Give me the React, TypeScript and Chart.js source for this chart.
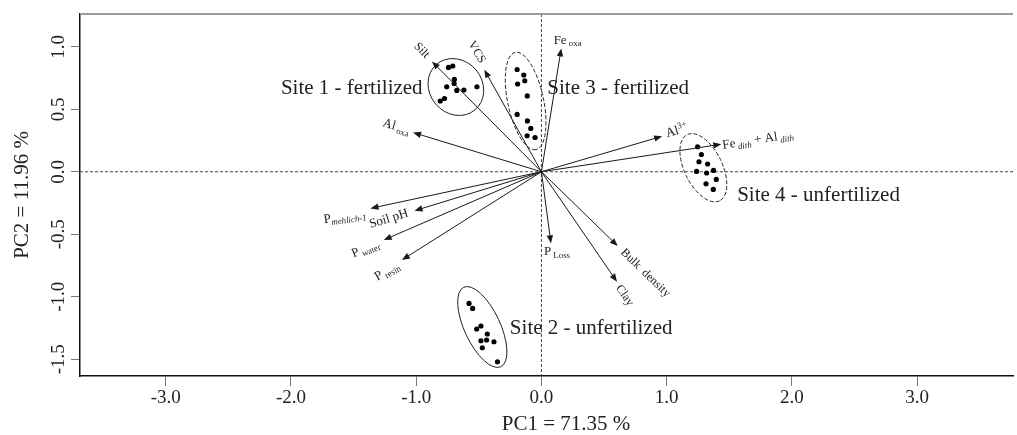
import React, { useEffect, useRef } from "react";
import { Chart, registerables } from "chart.js";
Chart.register(...registerables);

const FONT = "'Liberation Serif', 'Times New Roman', serif";

const xTickValues = [-3, -2, -1, 0, 1, 2, 3];
const yTickValues = [-1.5, -1, -0.5, 0, 0.5, 1];
const xLimits = [-3.684, 3.765];
const yLimits = [-1.634, 1.262];
const xTitle = "PC1 = 71.35 %";
const yTitle = "PC2 = 11.96 %";

const site1X = [-0.742, -0.708, -0.695, -0.697, -0.756, -0.676, -0.619, -0.515, -0.774, -0.808];
const site1Y = [0.835, 0.846, 0.739, 0.706, 0.68, 0.651, 0.654, 0.68, 0.586, 0.566];
const site2X = [-0.578, -0.549, -0.517, -0.483, -0.432, -0.483, -0.438, -0.379, -0.472, -0.351];
const site2Y = [-1.053, -1.093, -1.258, -1.234, -1.298, -1.352, -1.346, -1.36, -1.408, -1.52];
const site3X = [-0.194, -0.141, -0.133, -0.19, -0.113, -0.194, -0.112, -0.085, -0.114, -0.051];
const site3Y = [0.818, 0.774, 0.728, 0.702, 0.607, 0.459, 0.407, 0.347, 0.288, 0.274];
const site4X = [1.247, 1.277, 1.258, 1.327, 1.239, 1.319, 1.374, 1.396, 1.314, 1.372];
const site4Y = [0.2, 0.138, 0.08, 0.062, 0.003, -0.01, 0.011, -0.061, -0.096, -0.141];

const siteNames = ["Site 1 - fertilized", "Site 2 - unfertilized", "Site 3 - fertilized", "Site 4 - unfertilized"];
const siteLabelX = [-2.08, -0.252, 0.047, 1.563];
const siteLabelY = [0.622, -1.298, 0.622, -0.234];
const ellipseCX = [-0.683, -0.472, -0.126, 1.293];
const ellipseCY = [0.678, -1.242, 0.566, 0.032];
const ellipseA = [0.238, 0.35, 0.397, 0.294];
const ellipseB = [0.211, 0.143, 0.143, 0.151];
const ellipseRot = [50, 65, 78, 64];
const ellipseDashed = [false, false, true, true];

// loadings (arrow tips)
const loadingX = [-0.874, -0.456, 0.158, -1.025, 0.964, 1.436, -1.365, -1.013, -1.259, -1.114, 0.076, 0.609, 0.603];
const loadingY = [0.882, 0.816, 0.987, 0.314, 0.284, 0.22, -0.293, -0.312, -0.546, -0.706, -0.573, -0.594, -0.88];
type Seg = [string, "n" | "sub" | "sup" | "subi"];
const loadingLabels: Seg[][] = [
  [["Silt", "n"]],
  [["VCS", "n"]],
  [["Fe", "n"], [" oxa", "sub"]],
  [["Al", "n"], [" oxa", "sub"]],
  [["Al", "n"], ["3+", "sup"]],
  [["Fe", "n"], [" dith", "subi"], [" + Al", "n"], [" dith", "subi"]],
  [["P", "n"], ["mehlich-1", "subi"]],
  [["Soil pH", "n"]],
  [["P", "n"], [" water", "sub"]],
  [["P", "n"], [" resin", "sub"]],
  [["P", "n"], [" Loss", "sub"]],
  [["Bulk  density", "n"]],
  [["Clay", "n"]],
];
// label centre offset from arrow tip (px), rotation (deg), font size (px)
const labelDX = [-9.8, -7, 6.4, -16.5, 14.3, 36.5, -25.7, -26, -18.5, -15.3, 6, 28.3, 8.2];
const labelDY = [-11.5, -18, -9.1, -6.5, -6.2, -5.2, 7.7, 7.3, 8, 10.5, 7, 26.5, 13.3];
const labelRot = [45, 60, 0, 17, -16, -9, -8, -17, -22, -30, 0, 44, 55];
const labelSize = [12, 12, 13, 13, 13, 13, 13, 13, 13, 13, 13, 12, 12];

const toPts = (xs: number[], ys: number[]) => xs.map((x, i) => ({ x, y: ys[i] }));

const biplotPlugin = {
  id: "biplot",
  beforeDatasetsDraw(chart: any) {
    const { ctx, chartArea: a, scales } = chart;
    const xs = scales.x, ys = scales.y;
    const x0 = xs.getPixelForValue(0), y0 = ys.getPixelForValue(0);
    ctx.save();
    ctx.strokeStyle = "#444";
    ctx.lineWidth = 1;
    ctx.setLineDash([3, 2]);
    ctx.beginPath();
    ctx.moveTo(x0, a.top);
    ctx.lineTo(x0, a.bottom);
    ctx.moveTo(a.left, y0);
    ctx.lineTo(a.right, y0);
    ctx.stroke();
    ctx.restore();
  },
  afterDatasetsDraw(chart: any) {
    const { ctx, scales } = chart;
    const xs = scales.x, ys = scales.y;
    const ox = xs.getPixelForValue(0), oy = ys.getPixelForValue(0);
    ctx.save();
    // arrows
    ctx.strokeStyle = "#1a1a1a";
    ctx.fillStyle = "#1a1a1a";
    ctx.lineWidth = 1;
    loadingX.forEach((lx, i) => {
      const tx = xs.getPixelForValue(lx), ty = ys.getPixelForValue(loadingY[i]);
      const ang = Math.atan2(ty - oy, tx - ox);
      const c = Math.cos(ang), s = Math.sin(ang);
      const hl = 8, hw = 3.2;
      ctx.beginPath();
      ctx.moveTo(ox, oy);
      ctx.lineTo(tx - c * hl * 0.8, ty - s * hl * 0.8);
      ctx.stroke();
      ctx.beginPath();
      ctx.moveTo(tx, ty);
      ctx.lineTo(tx - c * hl - s * hw, ty - s * hl + c * hw);
      ctx.lineTo(tx - c * hl + s * hw, ty - s * hl - c * hw);
      ctx.closePath();
      ctx.fill();
      // label
      const size = labelSize[i];
      const segs = loadingLabels[i];
      const fontFor = (k: string) =>
        k === "n" ? `${size}px ${FONT}` : k === "subi" ? `italic ${size * 0.68}px ${FONT}` : `${size * 0.68}px ${FONT}`;
      let total = 0;
      const widths = segs.map(([t, k]) => {
        ctx.font = fontFor(k);
        const w = ctx.measureText(t).width;
        total += w;
        return w;
      });
      ctx.save();
      ctx.translate(tx + labelDX[i], ty + labelDY[i]);
      ctx.rotate((labelRot[i] * Math.PI) / 180);
      ctx.textAlign = "left";
      ctx.textBaseline = "alphabetic";
      ctx.fillStyle = "#222";
      let x = -total / 2;
      const base = size * 0.33;
      segs.forEach(([t, k], j) => {
        ctx.font = fontFor(k);
        const y = k === "n" ? base : k === "sup" ? base - size * 0.4 : base + size * 0.22;
        ctx.fillText(t, x, y);
        x += widths[j];
      });
      ctx.restore();
    });
    // ellipses
    ctx.strokeStyle = "#222";
    ctx.lineWidth = 1;
    ellipseCX.forEach((ecx, i) => {
      const cx = xs.getPixelForValue(ecx), cy = ys.getPixelForValue(ellipseCY[i]);
      const rx = Math.abs(xs.getPixelForValue(ecx + ellipseA[i]) - cx);
      const ry = Math.abs(xs.getPixelForValue(ecx + ellipseB[i]) - cx);
      ctx.setLineDash(ellipseDashed[i] ? [4, 2] : []);
      ctx.beginPath();
      ctx.ellipse(cx, cy, rx, ry, (ellipseRot[i] * Math.PI) / 180, 0, Math.PI * 2);
      ctx.stroke();
    });
    ctx.setLineDash([]);
    // site labels
    ctx.fillStyle = "#222";
    ctx.font = `21px ${FONT}`;
    ctx.textAlign = "left";
    ctx.textBaseline = "alphabetic";
    siteNames.forEach((n, i) => {
      ctx.fillText(n, xs.getPixelForValue(siteLabelX[i]), ys.getPixelForValue(siteLabelY[i]));
    });
    ctx.restore();
  },
  afterDraw(chart: any) {
    const { ctx, chartArea: a, scales } = chart;
    const ys = scales.y;
    ctx.save();
    ctx.strokeStyle = "#9a9a9a";
    ctx.lineWidth = 2;
    ctx.beginPath();
    ctx.moveTo(a.left, a.top);
    ctx.lineTo(a.right, a.top);
    ctx.stroke();
    ctx.fillStyle = "#222";
    ctx.font = `19px ${FONT}`;
    ctx.textAlign = "center";
    ctx.textBaseline = "middle";
    yTickValues.forEach((v) => {
      ctx.save();
      ctx.translate(59.4, ys.getPixelForValue(v));
      ctx.rotate(-Math.PI / 2);
      ctx.fillText(v.toFixed(1), 0, 0);
      ctx.restore();
    });
    // x-axis title (centred on the original, uncropped plot width)
    ctx.font = `21px ${FONT}`;
    ctx.fillText(xTitle, 566, 424);
    ctx.restore();
  },
};

export default function App() {
  const ref = useRef<HTMLCanvasElement>(null);
  useEffect(() => {
    const chart = new Chart(ref.current as HTMLCanvasElement, {
      type: "scatter",
      data: {
        datasets: [
          { data: toPts(site1X, site1Y) },
          { data: toPts(site2X, site2Y) },
          { data: toPts(site3X, site3Y) },
          { data: toPts(site4X, site4Y) },
        ].map((d) => ({ ...d, pointRadius: 2.6, backgroundColor: "#000", borderWidth: 0 })),
      },
      options: {
        animation: false,
        responsive: false,
        maintainAspectRatio: false,
        layout: { padding: { top: 14, right: 0, left: 0, bottom: 0 } },
        plugins: { legend: { display: false }, tooltip: { enabled: false } },
        scales: {
          x: {
            type: "linear",
            min: xLimits[0],
            max: xLimits[1],
            afterBuildTicks: (s: any) => {
              s.ticks = xTickValues.map((v) => ({ value: v }));
            },
            afterFit: (s: any) => {
              s.height = 59;
            },
            ticks: {
              autoSkip: false,
              maxRotation: 0,
              padding: 1,
              color: "#222",
              font: { family: FONT, size: 19 },
              callback: (v: any) => Number(v).toFixed(1),
            },
            grid: { display: true, drawOnChartArea: false, drawTicks: true, tickLength: 10, color: "#777", lineWidth: 1 },
            border: { display: true, color: "#111", width: 1.5 },
            title: { display: false },
          },
          y: {
            type: "linear",
            min: yLimits[0],
            max: yLimits[1],
            afterBuildTicks: (s: any) => {
              s.ticks = yTickValues.map((v) => ({ value: v }));
            },
            afterFit: (s: any) => {
              s.width = 80;
            },
            ticks: { display: false },
            grid: { display: true, drawOnChartArea: false, drawTicks: true, tickLength: 9, color: "#777", lineWidth: 1 },
            border: { display: true, color: "#111", width: 1.5 },
            title: {
              display: true,
              text: yTitle,
              color: "#222",
              font: { family: FONT, size: 21, lineHeight: 1.2 },
              padding: { top: 10, bottom: 0 },
            },
          },
        },
      },
      plugins: [biplotPlugin],
    } as any);
    return () => chart.destroy();
  }, []);
  return (
    <div style={{ position: "fixed", left: 0, top: 0, width: 1017, height: 435, background: "#fff" }}>
      <canvas ref={ref} width={1017} height={435} style={{ width: 1017, height: 435, display: "block" }} />
    </div>
  );
}
